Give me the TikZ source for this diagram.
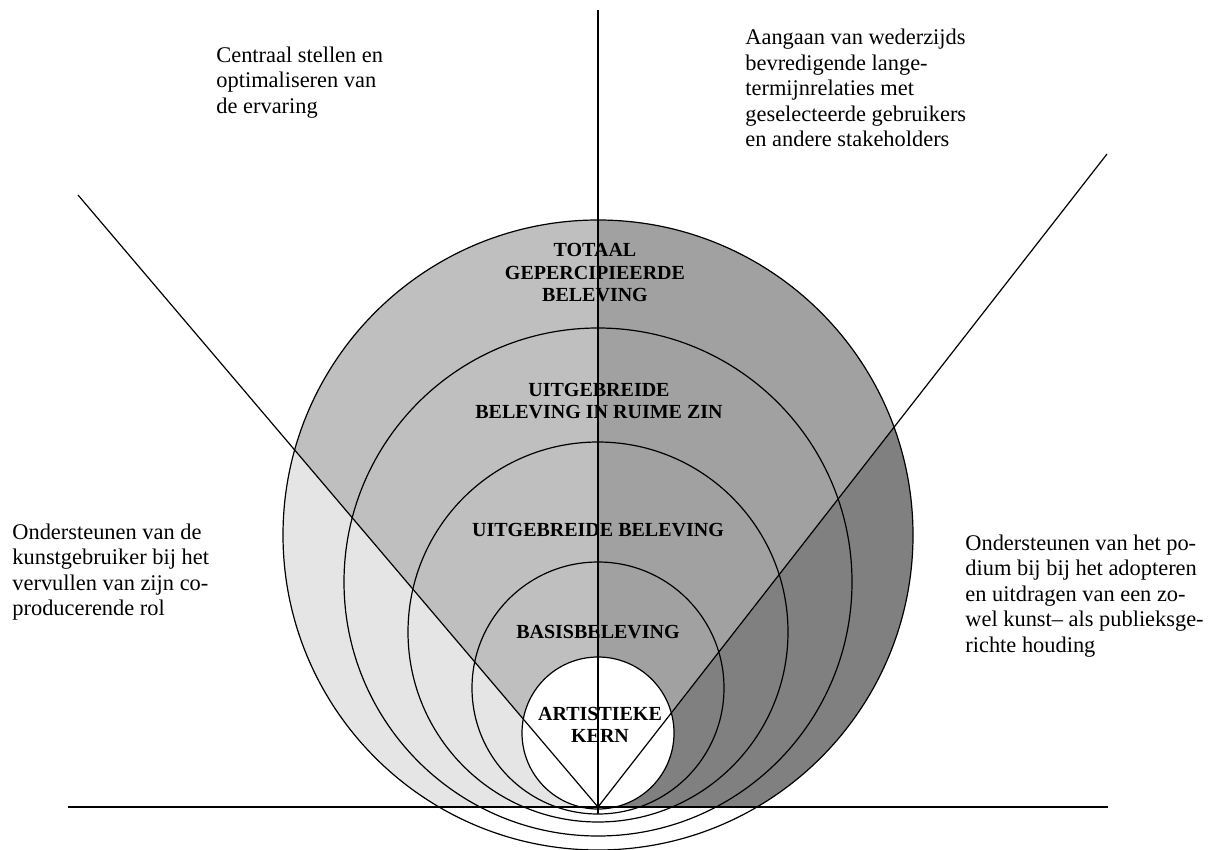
\documentclass[tikz,border=0pt]{standalone}
\usepackage{fontspec}
\setmainfont{Liberation Serif}
\usetikzlibrary{calc}
\definecolor{sectlight}{gray}{0.9}
\definecolor{sectleft}{gray}{0.75}
\definecolor{sectright}{gray}{0.63}
\definecolor{sectdark}{gray}{0.5}

\begin{document}
\begin{tikzpicture}[x=0.5pt,y=-0.5pt,
	ring/.style={line width=0.6pt},
	lbl/.style={font=\bfseries\fontsize{10}{11.25}\selectfont,align=center,inner sep=0pt},
	note/.style={font=\fontsize{11.2}{12.75}\selectfont,align=left,anchor=west,inner sep=0pt}]
			\useasboundingbox (0,0) rectangle (1209,850);
			\coordinate(O) at(598,807);
			\coordinate(L) at(78,195);
			\coordinate(R) at(1107,154);
			\coordinate(T) at(598,10);
			\coordinate(B) at(598,814);
			\coordinate(W) at(68,807);
			\coordinate(E) at(1108,807);
			
			% sectors, only inside the outer ring
			\begin{scope}
				\clip(598,535) circle (315);
				\fill[sectlight](O) -- (L) -- (L|-O) -- cycle;
				\fill[sectleft](O) -- (L) -- (L|-T) -- (T) -- cycle;
				\fill[sectright](O) -- (T) -- (R|-T) -- (R) -- cycle;
				\fill[sectdark](O) -- (R) -- (R|-O) -- cycle;
			\end{scope}
			\fill[white](598,733) circle (76);
			
			\foreach \cy/\r in {733/76,688/126,632/190,582/254,535/315}
				\draw[ring](598,\cy) circle (\r);
			\draw[ring](W) -- (E);
			\draw[ring](T) -- (B);
			\draw[ring](L) -- (O) -- (R);
			
			\node[lbl](totaal) at(595,273){TOTAAL\\GEPERCIPIEERDE\\BELEVING};
			\node[lbl](ruime) at(599,401){UITGEBREIDE\\BELEVING IN RUIME ZIN};
			\node[lbl](uitgebreid) at(598,530){UITGEBREIDE BELEVING};
			\node[lbl](basis) at(598,632){BASISBELEVING};
			\node[lbl](kern) at(600,725){ARTISTIEKE\\KERN};
			
			\node[note](centraal) at(216,82.5){Centraal stellen en\\optimaliseren van\\de ervaring};
			\node[note](aangaan) at(745,88){Aangaan van wederzijds\\bevredigende lange-\\termijnrelaties met\\geselecteerde gebruikers\\en andere stakeholders};
			\node[note](coprod) at(12,572){Ondersteunen van de\\kunstgebruiker bij het\\vervullen van zijn co-\\producerende rol};
			\node[note](podium) at(965,596){Ondersteunen van het po-\\dium bij bij het adopteren\\en uitdragen van een zo-\\wel kunst-- als publieksge-\\richte houding};
		\end{tikzpicture}
\end{document}
